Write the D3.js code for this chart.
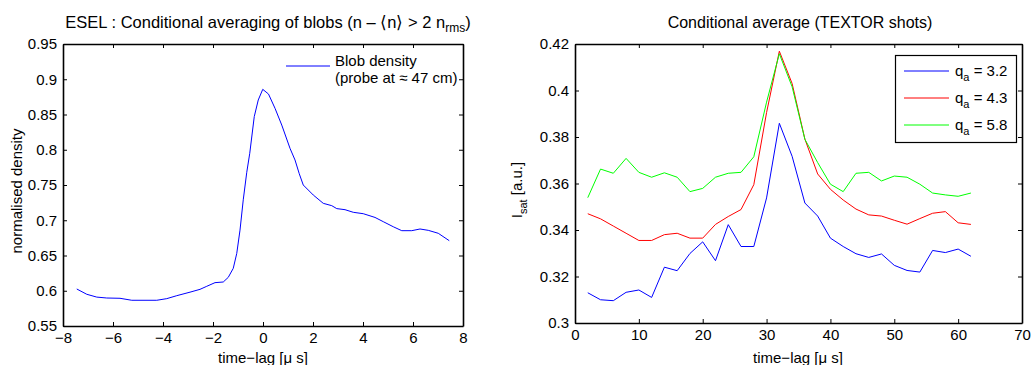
<!DOCTYPE html>
<html>
<head>
<meta charset="utf-8">
<script src="https://cdn.jsdelivr.net/npm/d3@7"></script>
<style>
  body { margin: 0; background: #fff; }
  text { font-family: "Liberation Sans", Arial, sans-serif; fill: #000; }
</style>
</head>
<body>
<svg id="chart" width="1031" height="365"></svg>
<script>
// left panel: ESEL blob density
var eselLag = [-7.45, -7.05, -6.65, -6.25, -5.72, -5.25, -4.25, -3.85, -3.45, -2.92,
  -2.52, -2.25, -1.92, -1.59, -1.39, -1.19, -1.05, -0.92, -0.79, -0.65, -0.53, -0.35,
  -0.19, -0.01, 0.22, 0.48, 0.75, 1.08, 1.28, 1.45, 1.61, 2.01, 2.41, 2.75, 2.95, 3.28,
  3.61, 4.01, 4.48, 4.81, 5.21, 5.55, 5.95, 6.28, 6.61, 7.01, 7.45];
var eselDensity = [0.6025, 0.595, 0.591, 0.5897, 0.5893, 0.5865, 0.5865, 0.5888, 0.593, 0.598,
  0.602, 0.6063, 0.6115, 0.6124, 0.619, 0.6318, 0.653, 0.686, 0.729, 0.768, 0.795, 0.847,
  0.8706, 0.8857, 0.879, 0.8588, 0.835, 0.802, 0.7855, 0.766, 0.75, 0.7358, 0.724, 0.7207, 0.7165, 0.715,
  0.7113, 0.7093, 0.704, 0.698, 0.6908, 0.6852, 0.6852, 0.6876, 0.6857, 0.6815, 0.671];
var eselXTicks = [-8, -6, -4, -2, 0, 2, 4, 6, 8];
var eselYTicks = [0.55, 0.6, 0.65, 0.7, 0.75, 0.8, 0.85, 0.9, 0.95];

// right panel: TEXTOR shots
var textorLag = [2, 4, 6, 8, 10, 12, 14, 16, 18, 20, 22, 24, 26, 28, 30, 32,
  34, 36, 38, 40, 42, 44, 46, 48, 50, 52, 54, 56, 58, 60, 62];
var qa32 = [0.3130, 0.3100, 0.3096, 0.3132, 0.3142, 0.3110, 0.3240, 0.3225, 0.3299, 0.3349,
  0.3268, 0.3423, 0.3329, 0.3329, 0.3538, 0.3859, 0.3717, 0.3516, 0.3460, 0.3365, 0.3329,
  0.3298, 0.3282, 0.3297, 0.3248, 0.3226, 0.3219, 0.3312, 0.3303, 0.3318, 0.3287];
var qa43 = [0.3470, 0.3448, 0.3417, 0.3386, 0.3355, 0.3355, 0.3380, 0.3386, 0.3365, 0.3365,
  0.3424, 0.3458, 0.3488, 0.3595, 0.3905, 0.4169, 0.4030, 0.3791, 0.3641, 0.3575, 0.3529,
  0.3490, 0.3465, 0.3460, 0.3442, 0.3425, 0.3449, 0.3472, 0.3479, 0.3431, 0.3424];
var qa58 = [0.3539, 0.3662, 0.3644, 0.3708, 0.3648, 0.3627, 0.3646, 0.3627, 0.3565, 0.3579,
  0.3627, 0.3644, 0.3648, 0.3715, 0.3950, 0.4158, 0.4016, 0.3790, 0.3690, 0.3597, 0.3565,
  0.3644, 0.3648, 0.3611, 0.3632, 0.3627, 0.3597, 0.3559, 0.3551, 0.3545, 0.3559];
var textorXTicks = [0, 10, 20, 30, 40, 50, 60, 70];
var textorYTicks = [0.3, 0.32, 0.34, 0.36, 0.38, 0.4, 0.42];
var seriesNames = ["3.2", "4.3", "5.8"];
var seriesColors = ["#0000ff", "#ff0000", "#00ff00"];

var svg = d3.select("#chart");
var fmt = function(d) { return String(d).replace("-", "\u2212"); };

// draws a matlab style box with inward ticks on all sides
function drawFrame(g, x, y, xt, yt) {
  var r = x.range(), b = y.range();
  var axes = [
    [d3.axisBottom(x).tickValues(xt).tickFormat(fmt), "translate(0," + b[0] + ")"],
    [d3.axisTop(x).tickValues(xt).tickFormat(""), "translate(0," + b[1] + ")"],
    [d3.axisLeft(y).tickValues(yt).tickFormat(fmt), "translate(" + r[0] + ",0)"],
    [d3.axisRight(y).tickValues(yt).tickFormat(""), "translate(" + r[1] + ",0)"]
  ];
  axes.forEach(function(a) {
    var ax = g.append("g").attr("transform", a[1])
      .call(a[0].tickSizeInner(-4).tickSizeOuter(0).tickPadding(6));
    ax.select(".domain").attr("stroke", "#000").attr("stroke-width", 1.6);
    ax.selectAll(".tick line").attr("stroke", "#000").attr("stroke-width", 1);
    ax.selectAll(".tick text").style("font-size", "15px")
      .style("font-family", '"Liberation Sans", Arial, sans-serif').attr("fill", "#000");
  });
}

// ---------- left panel ----------
var xL = d3.scaleLinear().domain([-8, 8]).range([63, 463]);
var yL = d3.scaleLinear().domain([0.55, 0.95]).range([326, 44]);
var gL = svg.append("g");
drawFrame(gL, xL, yL, eselXTicks, eselYTicks);

var lineL = d3.line().x(function(d) { return xL(d[0]); }).y(function(d) { return yL(d[1]); });
gL.append("path")
  .datum(d3.zip(eselLag, eselDensity))
  .attr("d", lineL).attr("fill", "none").attr("stroke", "#0000ff").attr("stroke-width", 1);

var tL = gL.append("text").attr("x", 268).attr("y", 28).attr("text-anchor", "middle")
  .style("font-size", "16.5px");
tL.append("tspan").text("ESEL : Conditional averaging of blobs (n \u2013 \u27E8n\u27E9 > 2 n");
tL.append("tspan").attr("dy", 4).style("font-size", "12px").text("rms");
tL.append("tspan").attr("dy", -4).text(")");

gL.append("text").attr("x", 263).attr("y", 363).attr("text-anchor", "middle")
  .style("font-size", "15px").text("time\u2212lag [\u03bc s]");
gL.append("text").attr("transform", "translate(22,191) rotate(-90)")
  .attr("text-anchor", "middle").style("font-size", "15px").text("normalised density");

// legend
gL.append("line").attr("x1", 286).attr("x2", 330).attr("y1", 66).attr("y2", 66)
  .attr("stroke", "#0000ff").attr("stroke-width", 1);
gL.append("text").attr("x", 335).attr("y", 66).style("font-size", "15px").text("Blob density");
gL.append("text").attr("x", 335).attr("y", 83).style("font-size", "15px").text("(probe at \u2248 47 cm)");

// ---------- right panel ----------
var xR = d3.scaleLinear().domain([0, 70]).range([575, 1022]);
var yR = d3.scaleLinear().domain([0.3, 0.42]).range([323, 44]);
var gR = svg.append("g");
drawFrame(gR, xR, yR, textorXTicks, textorYTicks);

var lineR = d3.line().x(function(d) { return xR(d[0]); }).y(function(d) { return yR(d[1]); });
[qa32, qa43, qa58].forEach(function(s, i) {
  gR.append("path")
    .datum(d3.zip(textorLag, s))
    .attr("d", lineR).attr("fill", "none").attr("stroke", seriesColors[i]).attr("stroke-width", 1);
});

gR.append("text").attr("x", 800).attr("y", 28).attr("text-anchor", "middle")
  .style("font-size", "16px").text("Conditional average (TEXTOR shots)");
gR.append("text").attr("x", 798).attr("y", 363).attr("text-anchor", "middle")
  .style("font-size", "15px").text("time\u2212lag [\u03bc s]");
var yLab = gR.append("text").attr("transform", "translate(522,190) rotate(-90)")
  .attr("text-anchor", "middle").style("font-size", "15px");
yLab.append("tspan").text("I");
yLab.append("tspan").attr("dy", 5).style("font-size", "11px").text("sat");
yLab.append("tspan").attr("dy", -5).text(" [a.u.]");

// legend box
var leg = gR.append("g");
leg.append("rect").attr("x", 895.5).attr("y", 55.5).attr("width", 121).attr("height", 87)
  .attr("fill", "#fff").attr("stroke", "#000").attr("stroke-width", 1.2);
seriesNames.forEach(function(n, i) {
  var ly = 71 + i * 27;
  leg.append("line").attr("x1", 904).attr("x2", 949).attr("y1", ly).attr("y2", ly)
    .attr("stroke", seriesColors[i]).attr("stroke-width", 1);
  var t = leg.append("text").attr("x", 955).attr("y", ly + 5).style("font-size", "15px");
  t.append("tspan").text("q");
  t.append("tspan").attr("dy", 5).style("font-size", "11px").text("a");
  t.append("tspan").attr("dy", -5).text(" = " + n);
});
</script>
</body>
</html>
